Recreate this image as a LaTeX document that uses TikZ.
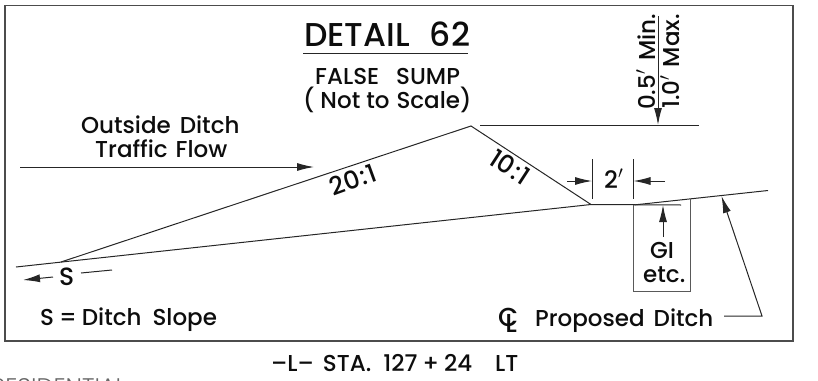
\documentclass[tikz,border=0pt]{standalone}
\usepackage{fontspec}
\setmainfont{Poppins Medium}
\newfontfamily\thinfont{Poppins Light}
\usetikzlibrary{arrows.meta}

\tikzset{
    every node/.style={inner sep=0pt, text=black!95},
    linework/.style={line width=1pt, black!85},
    framework/.style={line width=1.3pt, black!70},
    boxwork/.style={line width=1pt, black!65},
    tipped/.style={linework, -{Latex[length=17pt, width=8pt]}},
    lab/.style={font=\fontsize{23}{23}\selectfont, anchor=base west},
    ratio/.style={font=\fontsize{25}{25}\selectfont, anchor=center}
}

\begin{document}
\begin{tikzpicture}[x=1pt, y=-1pt]
    \useasboundingbox (0, 0) rectangle (818, 380);
    \clip (0, 0) rectangle (818, 380);

    % Frame
    \draw[framework] (5, 5.5) rectangle (793, 341);

    % Title
    \node[lab, font=\fontsize{33}{33}\selectfont] (title) at (304, 46.5) {DETAIL\hspace{20pt}62};
    \coordinate (titleL) at (303, 53.5);
    \coordinate (titleR) at (468, 53.5);
    \draw[line width=1.2pt, black!85] (titleL) -- (titleR);
    \node[lab] (sub) at (315, 84) {FALSE\hspace{17pt}SUMP};
    \node[lab] (scale) at (303, 108.5) {( Not to\hspace{7pt}Scale)};

    % Ditch profile
    \coordinate (start) at (16, 267);
    \coordinate (toe) at (61, 262);
    \coordinate (crest) at (471, 126);
    \coordinate (sag) at (591, 204.5);
    \coordinate (flatend) at (681, 205);
    \coordinate (flatR) at (633.5, 205);
    \coordinate (far) at (768, 190.5);
    \draw[linework] (start) -- (sag) -- (flatend);
    \draw[linework] (toe) -- (crest) -- (sag);
    \draw[linework] (flatR) -- (far);

    % Grate inlet box
    \coordinate (boxA) at (633.5, 205);
    \coordinate (boxB) at (633.5, 291);
    \coordinate (boxC) at (690, 291);
    \coordinate (boxD) at (690, 199);
    \draw[boxwork] (boxA) -- (boxB) -- (boxC) -- (boxD);
    \node[lab] (gi) at (650, 258) {GI};
    \node[lab] (etc) at (643, 282) {etc.};
    \coordinate (giTop) at (663, 237);
    \coordinate (giTip) at (663, 205);
    \draw[tipped] (giTop) -- (giTip);

    % Traffic flow
    \node[lab] (flowtop) at (81, 133) {Outside\hspace{9pt}Ditch};
    \node[lab] (flowbot) at (95, 157) {Traffic\hspace{8pt}Flow};
    \coordinate (flowA) at (20, 167);
    \coordinate (flowB) at (314, 167);
    \draw[tipped] (flowA) -- (flowB);

    % Slopes
    \node[ratio, rotate=20] (slopeA) at (353, 180) {20\hspace{1.5pt}:\hspace{1.5pt}1};
    \node[ratio, rotate=-33] (slopeB) at (510, 167) {10\hspace{1.5pt}:\hspace{1.5pt}1};

    % Height dimension
    \coordinate (levelA) at (480, 125);
    \coordinate (levelB) at (699, 125);
    \coordinate (dimTop) at (658, 16);
    \coordinate (dimTip) at (658, 125);
    \draw[linework] (levelA) -- (levelB);
    \draw[tipped] (dimTop) -- (dimTip);
    \node[lab, rotate=90] (minlab) at (655, 110) {0.5$'$\hspace{9pt}Min.};
    \node[lab, rotate=90] (maxlab) at (679, 109) {1.0$'$\hspace{8pt}Max.};

    % Width dimension
    \coordinate (extA) at (592, 159);
    \coordinate (extAb) at (592, 199);
    \coordinate (extB) at (633.5, 159);
    \coordinate (extBb) at (633.5, 199);
    \coordinate (inA) at (567, 181);
    \coordinate (inB) at (665, 181);
    \draw[linework] (extA) -- (extAb);
    \draw[linework] (extB) -- (extBb);
    \draw[tipped] (inA) -- (extA |- inA);
    \draw[tipped] (inB) -- (extB |- inB);
    \node[lab, font=\fontsize{24}{24}\selectfont] (width) at (604, 188) {2$'$};

    % Ditch slope
    \node[lab, font=\fontsize{25}{25}\selectfont] (s) at (59, 285) {S};
    \coordinate (sArrow) at (53, 277);
    \coordinate (sTip) at (23, 280);
    \coordinate (sdashA) at (81, 273);
    \coordinate (sdashB) at (112, 270);
    \draw[tipped] (sArrow) -- (sTip);
    \draw[linework] (sdashA) -- (sdashB);
    \node[lab] (sdef) at (40, 325) {S\hspace{5pt}=\hspace{5pt}Ditch\hspace{11pt}Slope};

    % Centre line label
    \node[lab, font=\fontsize{26}{26}\selectfont] (clmark) at (498, 326) {C\kern-0.5em\raisebox{-6pt}{L}};
    \node[lab] (cl) at (535, 326) {Proposed\hspace{9pt}Ditch};
    \coordinate (clA) at (724, 316);
    \coordinate (clB) at (762, 316);
    \coordinate (clTip) at (721.5, 196);
    \draw[tipped] (clA) -- (clB) -- (clTip);

    % Below the frame
    \node[lab] (sta) at (271, 371) {--L--\hspace{9pt}STA.\hspace{12pt}127\hspace{5pt}+\hspace{5pt}24\hspace{23pt}LT};
    \node[lab, font=\fontsize{24}{24}\thinfont, text=black!60] (res) at (-9, 395) {RESIDENTIAL};
\end{tikzpicture}
\end{document}
